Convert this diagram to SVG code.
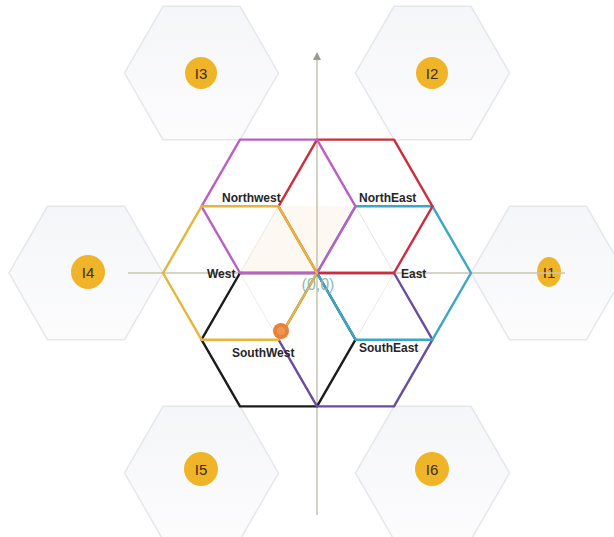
<svg xmlns="http://www.w3.org/2000/svg" width="614" height="537" viewBox="0 0 614 537">
<defs>
  <linearGradient id="hg" x1="0" y1="0" x2="0" y2="1">
    <stop offset="0" stop-color="#f5f6f9"/>
    <stop offset="1" stop-color="#fcfcfd"/>
  </linearGradient>
  <marker id="arr" viewBox="0 0 10 10" refX="5" refY="5" markerWidth="5" markerHeight="5" orient="auto-start-reverse">
    <path d="M0,0 L10,5 L0,10 z" fill="#9a9a90"/>
  </marker>
  <style>
    .outer{fill:url(#hg);stroke:#e6e7eb;stroke-width:1.5}
    .badge{fill:#f0b429}
    .btxt{font-family:"Liberation Sans",Arial,sans-serif;font-size:15px;fill:#3b2a14;text-anchor:middle}
    .hex{fill:none;stroke-width:2.4;stroke-linejoin:round}
    .lbl{font-family:"Liberation Sans",Arial,sans-serif;font-size:12px;font-weight:bold;fill:#262626}
    .grid{stroke:#eeebe5;stroke-width:1;fill:none}
    .axis{stroke:#c9c7b2;stroke-width:1.6;fill:none}
  </style>
</defs>
<rect width="614" height="537" fill="#ffffff"/>

<g id="outer-hexagons">
  <g id="I1"><polygon class="outer" points="625,273 586.5,206.3 509.5,206.3 471,273 509.5,339.7 586.5,339.7"/><ellipse class="badge" cx="549" cy="272" rx="12" ry="15"/><text class="btxt" x="549" y="277.5">I1</text></g>
  <g id="I2"><polygon class="outer" points="509.5,73 471,6.3 394,6.3 355.5,73 394,139.7 471,139.7"/><circle class="badge" cx="432" cy="73" r="16"/><text class="btxt" x="432" y="78.5">I2</text></g>
  <g id="I3"><polygon class="outer" points="278.5,73 240,6.3 163,6.3 124.5,73 163,139.7 240,139.7"/><circle class="badge" cx="201" cy="73" r="16"/><text class="btxt" x="201" y="78.5">I3</text></g>
  <g id="I4"><polygon class="outer" points="163,273 124.5,206.3 47.5,206.3 9,273 47.5,339.7 124.5,339.7"/><circle class="badge" cx="88" cy="272" r="17"/><text class="btxt" x="88" y="277.5">I4</text></g>
  <g id="I5"><polygon class="outer" points="278.5,473 240,406.3 163,406.3 124.5,473 163,539.7 240,539.7"/><circle class="badge" cx="201" cy="469" r="17"/><text class="btxt" x="201" y="474.5">I5</text></g>
  <g id="I6"><polygon class="outer" points="509.5,473 471,406.3 394,406.3 355.5,473 394,539.7 471,539.7"/><circle class="badge" cx="432" cy="469" r="17"/><text class="btxt" x="432" y="474.5">I6</text></g>
</g>

<g id="background">
  <polygon points="278.5,206.3 355.5,206.3 317,273 240,273" fill="#fcefe2" opacity="0.45"/>
  <path class="grid" d="M240,273 L278.5,206.3 M355.5,206.3 L394,273 M240,273 L278.5,339.7 M355.5,339.7 L394,273 M278.5,206.3 L201.5,339.7 M355.5,206.3 L432.5,339.7 M201.5,206.3 L240,273 M432.5,206.3 L394,273"/>
</g>

<g id="axes">
  <line class="axis" x1="317" y1="515" x2="317" y2="56" marker-end="url(#arr)"/>
  <line class="axis" x1="128" y1="273" x2="565" y2="273"/>
</g>

<g id="hexagons">
  <g id="southwest"><polygon class="hex" stroke="#1c1c1c" points="355.5,339.7 317,273 240,273 201.5,339.7 240,406.4 317,406.4"/></g>
  <g id="southeast"><polygon class="hex" stroke="#6a4d9e" points="432.5,339.7 394,273 317,273 278.5,339.7 317,406.4 394,406.4"/></g>
  <g id="east"><polygon class="hex" stroke="#3aa7c9" points="471,273 432.5,206.3 355.5,206.3 317,273 355.5,339.7 432.5,339.7"/></g>
  <g id="northeast"><polygon class="hex" stroke="#cc2f3c" points="432.5,206.3 394,139.6 317,139.6 278.5,206.3 317,273 394,273"/></g>
  <g id="northwest"><polygon class="hex" stroke="#bb5fc6" points="355.5,206.3 317,139.6 240,139.6 201.5,206.3 240,273 317,273"/></g>
  <g id="west"><polygon class="hex" stroke="#e8b43a" points="317,273 278.5,206.3 201.5,206.3 163,273 201.5,339.7 278.5,339.7"/></g>
</g>

<g id="origin">
  <circle cx="281" cy="331" r="8" fill="#e8813a"/>
  <circle cx="281" cy="331" r="4" fill="#f0a060" opacity="0.7"/>
  <text x="318" y="290" font-family="'Liberation Sans',Arial,sans-serif" font-size="16" fill="#8fbcb4" text-anchor="middle">(0,0)</text>
</g>

<g id="labels">
  <text class="lbl" x="222" y="202">Northwest</text>
  <text class="lbl" x="359" y="202">NorthEast</text>
  <text class="lbl" x="207" y="278">West</text>
  <text class="lbl" x="401" y="278">East</text>
  <text class="lbl" x="232" y="357">SouthWest</text>
  <text class="lbl" x="359" y="352">SouthEast</text>
</g>
</svg>
